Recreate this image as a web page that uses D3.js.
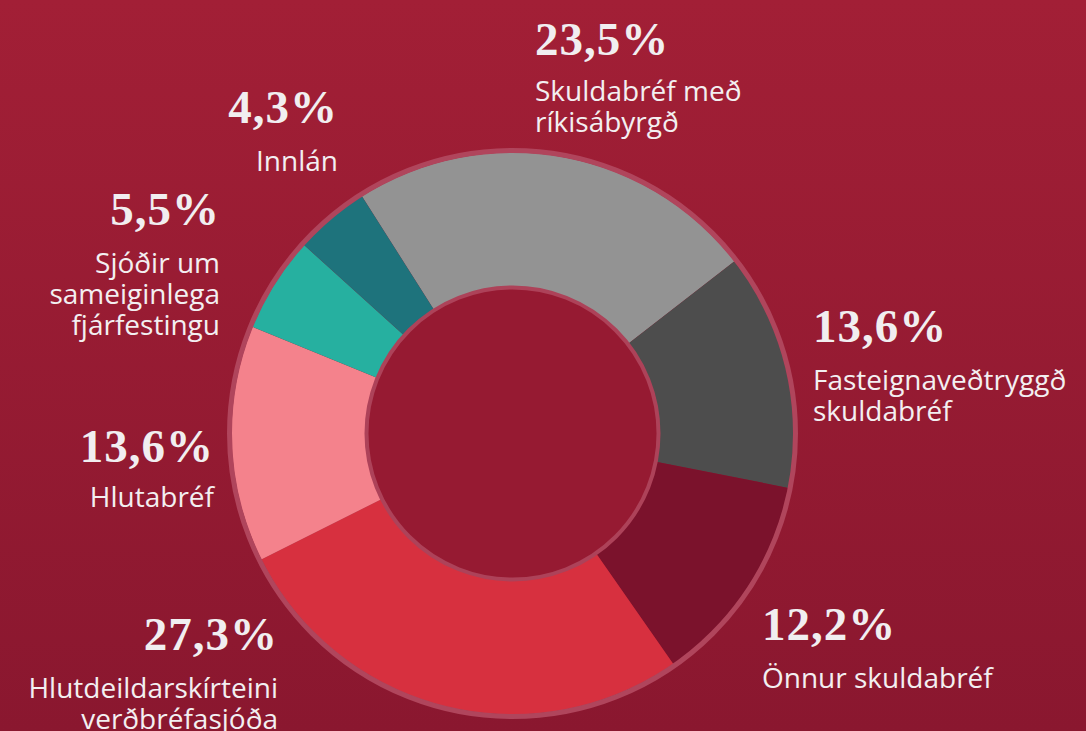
<!DOCTYPE html>
<html><head><meta charset="utf-8">
<script src="https://cdn.jsdelivr.net/npm/d3@7"></script>
<style>html,body{margin:0;padding:0;overflow:hidden;}svg{display:block;}</style>
</head><body>
<svg id="c" width="1086" height="731"></svg>
<script>
const categories = ["Skuldabréf með ríkisábyrgð","Fasteignaveðtryggð skuldabréf","Önnur skuldabréf","Hlutdeildarskírteini verðbréfasjóða","Hlutabréf","Sjóðir um sameiginlega fjárfestingu","Innlán"];
const values = [23.5, 13.6, 12.2, 27.3, 13.6, 5.5, 4.3];
const valueLabels = ["23,5%","13,6%","12,2%","27,3%","13,6%","5,5%","4,3%"];
const labelLines = [["Skuldabréf með","ríkisábyrgð"],["Fasteignaveðtryggð","skuldabréf"],["Önnur skuldabréf"],["Hlutdeildarskírteini","verðbréfasjóða"],["Hlutabréf"],["Sjóðir um","sameiginlega","fjárfestingu"],["Innlán"]];
const colors = ["#939393","#4d4d4d","#7b122c","#d7303f","#f4828c","#26b0a0","#1e737c"];

const W=1086,H=731, cx=512.5, cy=433.5;
const svg=d3.select("#c");
const defs=svg.append("defs");
const g=defs.append("linearGradient").attr("id","bg").attr("x1",0).attr("y1",0).attr("x2",0).attr("y2",1);
g.append("stop").attr("offset","0%").attr("stop-color","#a21f36");
g.append("stop").attr("offset","100%").attr("stop-color","#8a172f");
svg.append("rect").attr("width",W).attr("height",H).attr("fill","url(#bg)");

const start=-32.4*Math.PI/180;
const pie=d3.pie().sort(null).value(d=>d).startAngle(start).endAngle(start+2*Math.PI);
const arc=d3.arc().innerRadius(146).outerRadius(281);
const chart=svg.append("g").attr("transform",`translate(${cx},${cy})`);
chart.selectAll("path.s").data(pie(values)).join("path").attr("class","s")
  .attr("d",arc).attr("fill",(d,i)=>colors[i]);
chart.append("circle").attr("r",283).attr("fill","none").attr("stroke","#b0455c").attr("stroke-width",5);
chart.append("circle").attr("r",146).attr("fill","#961a32").attr("stroke","#ad4259").attr("stroke-width",4);

// label placement (anchor x, baseline of value, baseline of first label line)
const place=[
 {x:535,a:"start",v:55,l:101},
 {x:813,a:"start",v:342,l:390},
 {x:762,a:"start",v:640,l:688},
 {x:278,a:"end",v:650,l:698},
 {x:214,a:"end",v:462,l:507},
 {x:220,a:"end",v:225,l:273},
 {x:338,a:"end",v:123,l:171}
];
const lab=svg.append("g");
values.forEach((v,i)=>{
  const p=place[i];
  lab.append("text").attr("x",p.x).attr("y",p.v).attr("text-anchor",p.a)
    .attr("font-family","'Liberation Serif','DejaVu Serif',serif").attr("font-weight","bold")
    .attr("font-size",47).attr("letter-spacing",1).attr("fill","#f1eef0").text(valueLabels[i]);
  labelLines[i].forEach((t,j)=>{
    lab.append("text").attr("x",p.x).attr("y",p.l+j*31).attr("text-anchor",p.a)
      .attr("font-family","'Open Sans',Lato,sans-serif").attr("font-size",28)
      .attr("fill","#f3eff1").text(t);
  });
});
</script>
</body></html>
